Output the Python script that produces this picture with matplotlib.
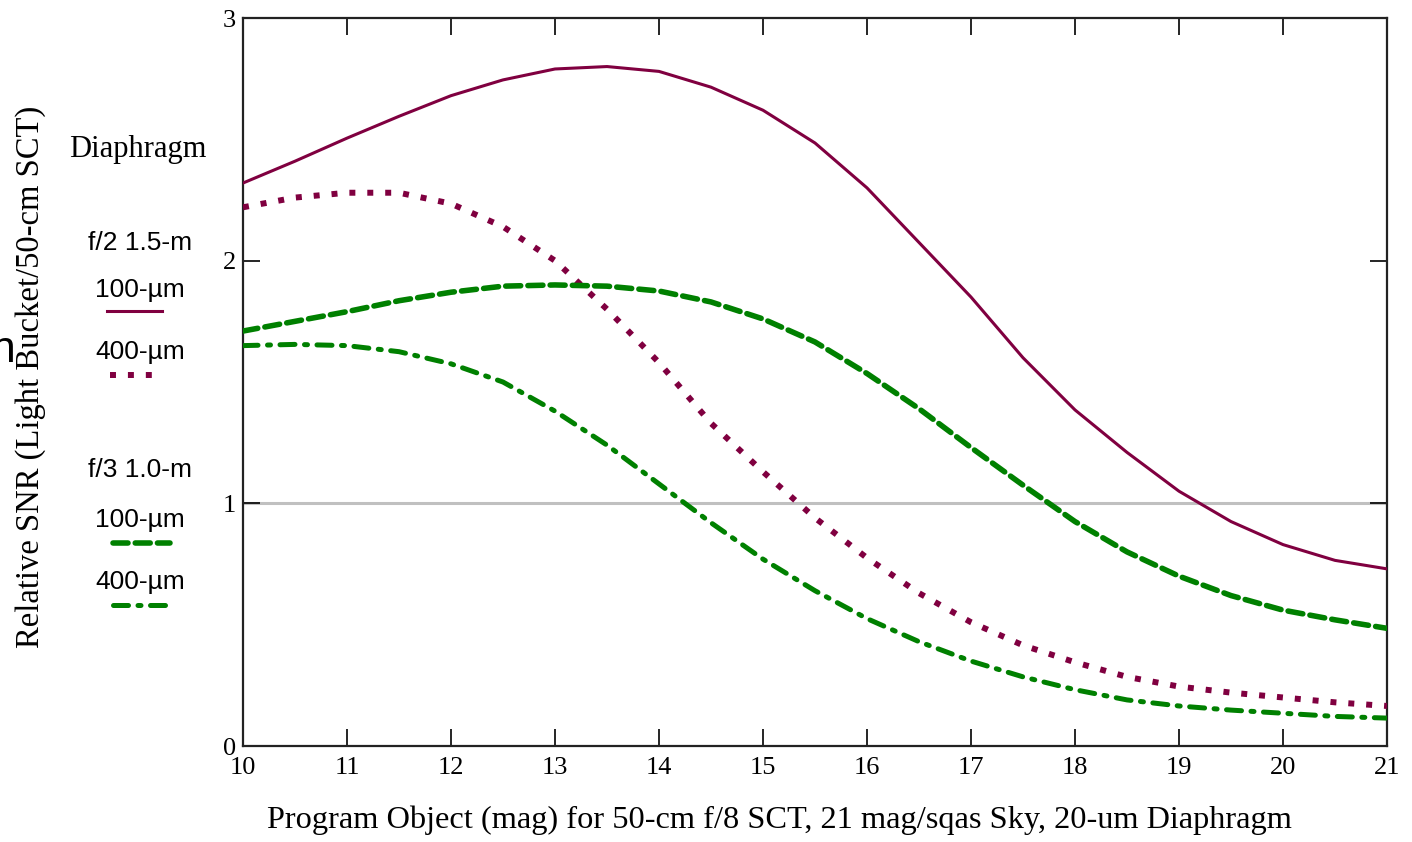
import matplotlib
matplotlib.use('Agg')
import matplotlib.pyplot as plt
from matplotlib.lines import Line2D

# Program object magnitude (x) and relative SNR curves read at half-magnitude steps
mag = [10, 10.5, 11, 11.5, 12, 12.5, 13, 13.5, 14, 14.5, 15, 15.5,
       16, 16.5, 17, 17.5, 18, 18.5, 19, 19.5, 20, 20.5, 21]

f2_100um = [2.32, 2.41, 2.505, 2.595, 2.68, 2.745, 2.79, 2.80, 2.78, 2.715, 2.62, 2.485,
            2.30, 2.075, 1.85, 1.60, 1.385, 1.21, 1.05, 0.925, 0.83, 0.765, 0.73]
f2_400um = [2.22, 2.26, 2.28, 2.28, 2.235, 2.14, 2.00, 1.80, 1.58, 1.33, 1.13, 0.94,
            0.775, 0.63, 0.51, 0.415, 0.345, 0.285, 0.245, 0.22, 0.20, 0.18, 0.165]
f3_100um = [1.71, 1.75, 1.79, 1.835, 1.87, 1.895, 1.90, 1.895, 1.875, 1.83, 1.76, 1.665,
            1.535, 1.39, 1.23, 1.075, 0.925, 0.80, 0.70, 0.62, 0.56, 0.52, 0.485]
f3_400um = [1.65, 1.655, 1.65, 1.625, 1.575, 1.50, 1.38, 1.24, 1.08, 0.92, 0.77, 0.64,
            0.525, 0.43, 0.35, 0.285, 0.232, 0.19, 0.165, 0.148, 0.135, 0.122, 0.115]

x_ticks = list(range(10, 22))
y_ticks = [0, 1, 2, 3]

maroon = "#800040"
green = "#008000"

style_solid = dict(color=maroon, lw=2.2, linestyle="-", solid_joinstyle="round")
style_dot = dict(color=maroon, lw=4.3, linestyle=(0, (1, 2)), dash_capstyle="butt")
style_dash = dict(color=green, lw=4.0, linestyle=(0, (2.7, 1.3)), dash_capstyle="round")
style_dashdot = dict(color=green, lw=3.6, linestyle=(0, (3.0, 1.9, 0.6, 1.9)), dash_capstyle="round")

serif = "Liberation Serif"
sans = "Liberation Sans"

fig = plt.figure(figsize=(14.12, 8.42), dpi=100)
ax = fig.add_axes([0.1721, 0.114, 0.8102, 0.8646])

ax.axhline(1, color="#c0c0c0", lw=2.2, zorder=1)
ax.plot(mag, f2_100um, **style_solid, zorder=3)
ax.plot(mag, f2_400um, **style_dot, zorder=3)
ax.plot(mag, f3_100um, **style_dash, zorder=3)
ax.plot(mag, f3_400um, **style_dashdot, zorder=3)

ax.set_xlim(10, 21)
ax.set_ylim(0, 3)
ax.set_xticks(x_ticks)
ax.set_yticks(y_ticks)
ax.tick_params(direction="in", length=12, width=1.2, top=True, right=True,
               labelsize=19, colors="black")
ax.tick_params(axis="x", pad=8)
ax.tick_params(axis="y", pad=5)
for lbl in ax.get_xticklabels() + ax.get_yticklabels():
    lbl.set_fontfamily(serif)
for sp in ax.spines.values():
    sp.set_linewidth(1.6)
    sp.set_color("#222222")

ax.set_xlabel("Program Object (mag) for 50-cm f/8 SCT, 21 mag/sqas Sky, 20-um Diaphragm",
              fontfamily=serif, fontsize=23.3)
ax.xaxis.set_label_coords(0.469, -0.082)
fig.text(0.022, 0.552, "Relative SNR (Light Bucket/50-cm SCT)", rotation=90,
         ha="center", va="center", fontfamily=serif, fontsize=23.5)

# hand-built key on the left margin
def fx(px):
    return px / 1412


def fy(py):
    return 1 - py / 842


fig.text(fx(138), fy(150), "Diaphragm", ha="center", va="center", fontfamily=serif, fontsize=22)
key = [
    ("f/2 1.5-m", 243, None),
    ("100-µm", 290, (style_solid, 107, 162, 311)),
    ("400-µm", 352, (style_dot, 110, 158, 375)),
    ("f/3 1.0-m", 470, None),
    ("100-µm", 520, (style_dash, 113, 170, 543)),
    ("400-µm", 582, (style_dashdot, 113, 168, 605)),
]
for label, py, sample in key:
    fig.text(fx(140), fy(py), label, ha="center", va="center", fontfamily=sans, fontsize=19)
    if sample is not None:
        st, x0, x1, ys = sample
        fig.add_artist(Line2D([fx(x0), fx(x1)], [fy(ys), fy(ys)], transform=fig.transFigure, **st))

# partly clipped glyph at the left border
fig.text(-0.0065, fy(350), "n", ha="left", va="center", fontfamily=sans, fontsize=32)

fig.savefig("out.png", dpi=100, facecolor="white")
